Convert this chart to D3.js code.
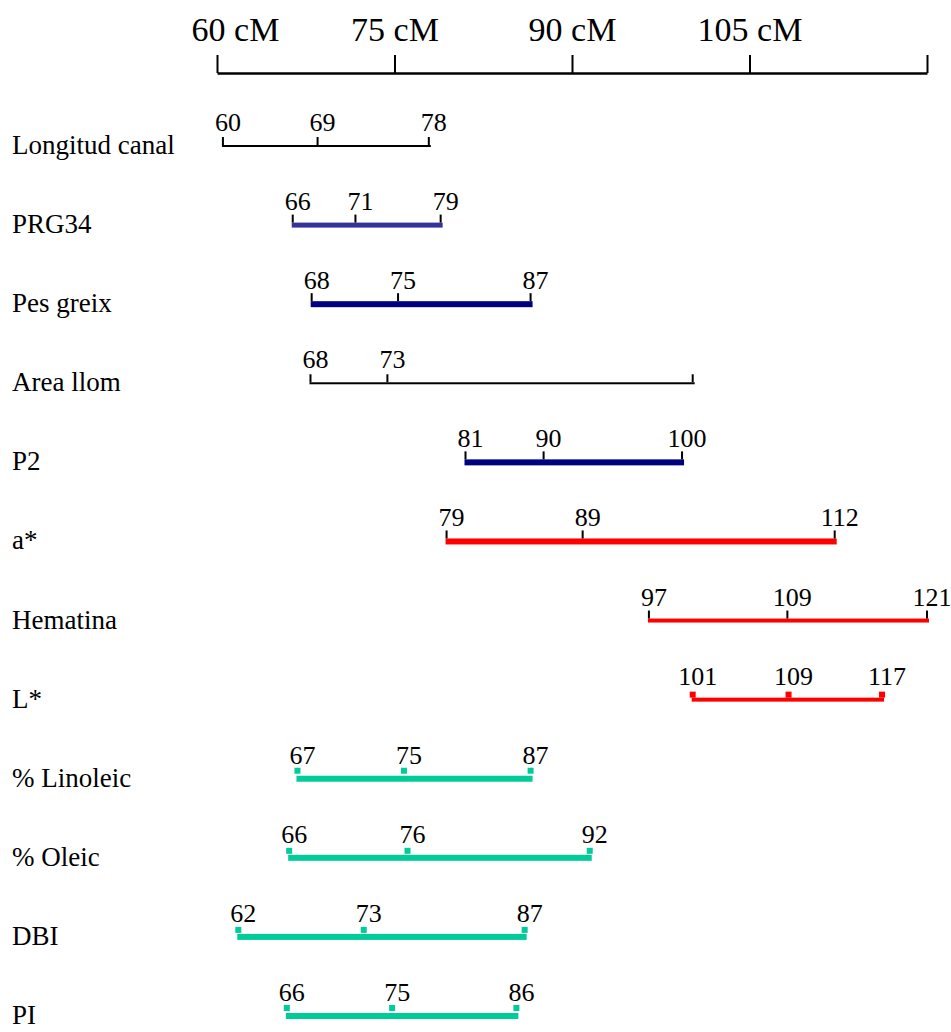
<!DOCTYPE html>
<html>
<head>
<meta charset="utf-8">
<script src="https://cdn.jsdelivr.net/npm/d3@7"></script>
<style>
  html, body { margin: 0; padding: 0; background: #fff; }
  svg { display: block; }
</style>
</head>
<body>
<svg id="chart" width="951" height="1032"></svg>
<script>
// ---- data ----
const traits = ["Longitud canal", "PRG34", "Pes greix", "Area llom", "P2", "a*",
                "Hematina", "L*", "% Linoleic", "% Oleic", "DBI", "PI"];
// marker labels as printed on the chart
const markerLabels = [
  ["60", "69", "78"],
  ["66", "71", "79"],
  ["68", "75", "87"],
  ["68", "73", ""],
  ["81", "90", "100"],
  ["79", "89", "112"],
  ["97", "109", "121"],
  ["101", "109", "117"],
  ["67", "75", "87"],
  ["66", "76", "92"],
  ["62", "73", "87"],
  ["66", "75", "86"]
];
// marker positions (cM)
const markerPos = [
  [60.5, 68.5, 77.9],
  [66.4, 71.7, 78.9],
  [68.0, 75.3, 86.5],
  [67.9, 74.4, 100.2],
  [81.0, 87.6, 99.3],
  [79.4, 90.9, 112.2],
  [96.5, 108.2, 120.0],
  [100.2, 108.3, 116.2],
  [66.8, 75.8, 86.5],
  [66.1, 76.1, 91.5],
  [61.8, 72.4, 86.0],
  [65.9, 74.8, 85.3]
];
const axisTicks = [60, 75, 90, 105, 120];
const axisTickLabels = ["60 cM", "75 cM", "90 cM", "105 cM", ""];

// ---- styles ----
const NAVY_L = "#333399", NAVY = "#000080", RED = "#ff0000", TEAL = "#00cc99";
const styleOf = {
  "Longitud canal": { kind: "line", color: "#000", w: 2 },
  "PRG34":          { kind: "bar", color: NAVY_L, w: 5 },
  "Pes greix":      { kind: "bar", color: NAVY, w: 6 },
  "Area llom":      { kind: "line", color: "#000", w: 2 },
  "P2":             { kind: "bar", color: NAVY, w: 6 },
  "a*":             { kind: "bar", color: RED, w: 6 },
  "Hematina":       { kind: "bar", color: RED, w: 4 },
  "L*":             { kind: "square", color: RED, w: 4, sq: -8 },
  "% Linoleic":     { kind: "square", color: TEAL, w: 6, sq: -11 },
  "% Oleic":        { kind: "square", color: TEAL, w: 6, sq: -10 },
  "DBI":            { kind: "square", color: TEAL, w: 6, sq: -10 },
  "PI":             { kind: "square", color: TEAL, w: 6, sq: -11 }
};
const FONT = "'Liberation Serif', 'Times New Roman', Times, serif";

const svg = d3.select("#chart");
svg.append("rect").attr("width", 951).attr("height", 1032).attr("fill", "#fff");

const x = d3.scaleLinear().domain([60, 120]).range([217, 927]);
const y = d3.scalePoint().domain(traits).range([146, 1016]);

// ---- top axis ----
const axis = d3.axisTop(x)
  .tickValues(axisTicks)
  .tickFormat((d, i) => axisTickLabels[i])
  .tickSize(18)
  .tickSizeOuter(0)
  .tickPadding(14);
const gAxis = svg.append("g").attr("transform", "translate(0,73)").call(axis);
gAxis.select(".domain").attr("stroke", "#000").attr("stroke-width", 2.5);
gAxis.selectAll(".tick line").attr("stroke", "#000").attr("stroke-width", 2);
gAxis.selectAll(".tick text")
  .attr("font-family", FONT)
  .attr("font-size", 34)
  .attr("fill", "#000")
  .attr("dx", (d, i) => i === 0 ? 18 : 0);

// ---- rows ----
const rows = traits.map((t, i) => ({
  trait: t,
  style: styleOf[t],
  markers: markerPos[i].map((p, j) => ({ pos: p, label: markerLabels[i][j] }))
}));

const g = svg.append("g").selectAll("g.row").data(rows).join("g")
  .attr("class", "row")
  .attr("transform", d => `translate(0,${y(d.trait)})`);

// trait names
g.append("text")
  .attr("x", 12)
  .attr("y", 8)
  .attr("font-family", FONT)
  .attr("font-size", 27)
  .attr("fill", "#000")
  .text(d => d.trait);

// main bar / line
g.append("rect")
  .attr("x", d => x(d.markers[0].pos) - 1)
  .attr("width", d => x(d.markers[d.markers.length - 1].pos) - x(d.markers[0].pos) + 3)
  .attr("y", d => -d.style.w / 2)
  .attr("height", d => d.style.w)
  .attr("fill", d => d.style.color);

// ticks (black) for line / bar rows
g.filter(d => d.style.kind !== "square")
  .selectAll("rect.tk")
  .data(d => d.markers.map(m => ({ ...m, st: d.style })))
  .join("rect")
  .attr("class", "tk")
  .attr("x", m => x(m.pos) - 1)
  .attr("width", 2)
  .attr("y", m => -m.st.w / 2 - 8)
  .attr("height", 8)
  .attr("fill", "#000");

// squares for square rows
g.filter(d => d.style.kind === "square")
  .selectAll("rect.sq")
  .data(d => d.markers.map(m => ({ ...m, st: d.style })))
  .join("rect")
  .attr("class", "sq")
  .attr("x", m => x(m.pos) - 3)
  .attr("width", 6)
  .attr("y", m => m.st.sq)
  .attr("height", 6)
  .attr("fill", m => m.st.color);

// marker labels
g.selectAll("text.val")
  .data(d => d.markers)
  .join("text")
  .attr("class", "val")
  .attr("x", m => x(m.pos) + 5)
  .attr("y", -15)
  .attr("text-anchor", "middle")
  .attr("font-family", FONT)
  .attr("font-size", 26)
  .attr("fill", "#000")
  .text(m => m.label);
</script>
</body>
</html>
